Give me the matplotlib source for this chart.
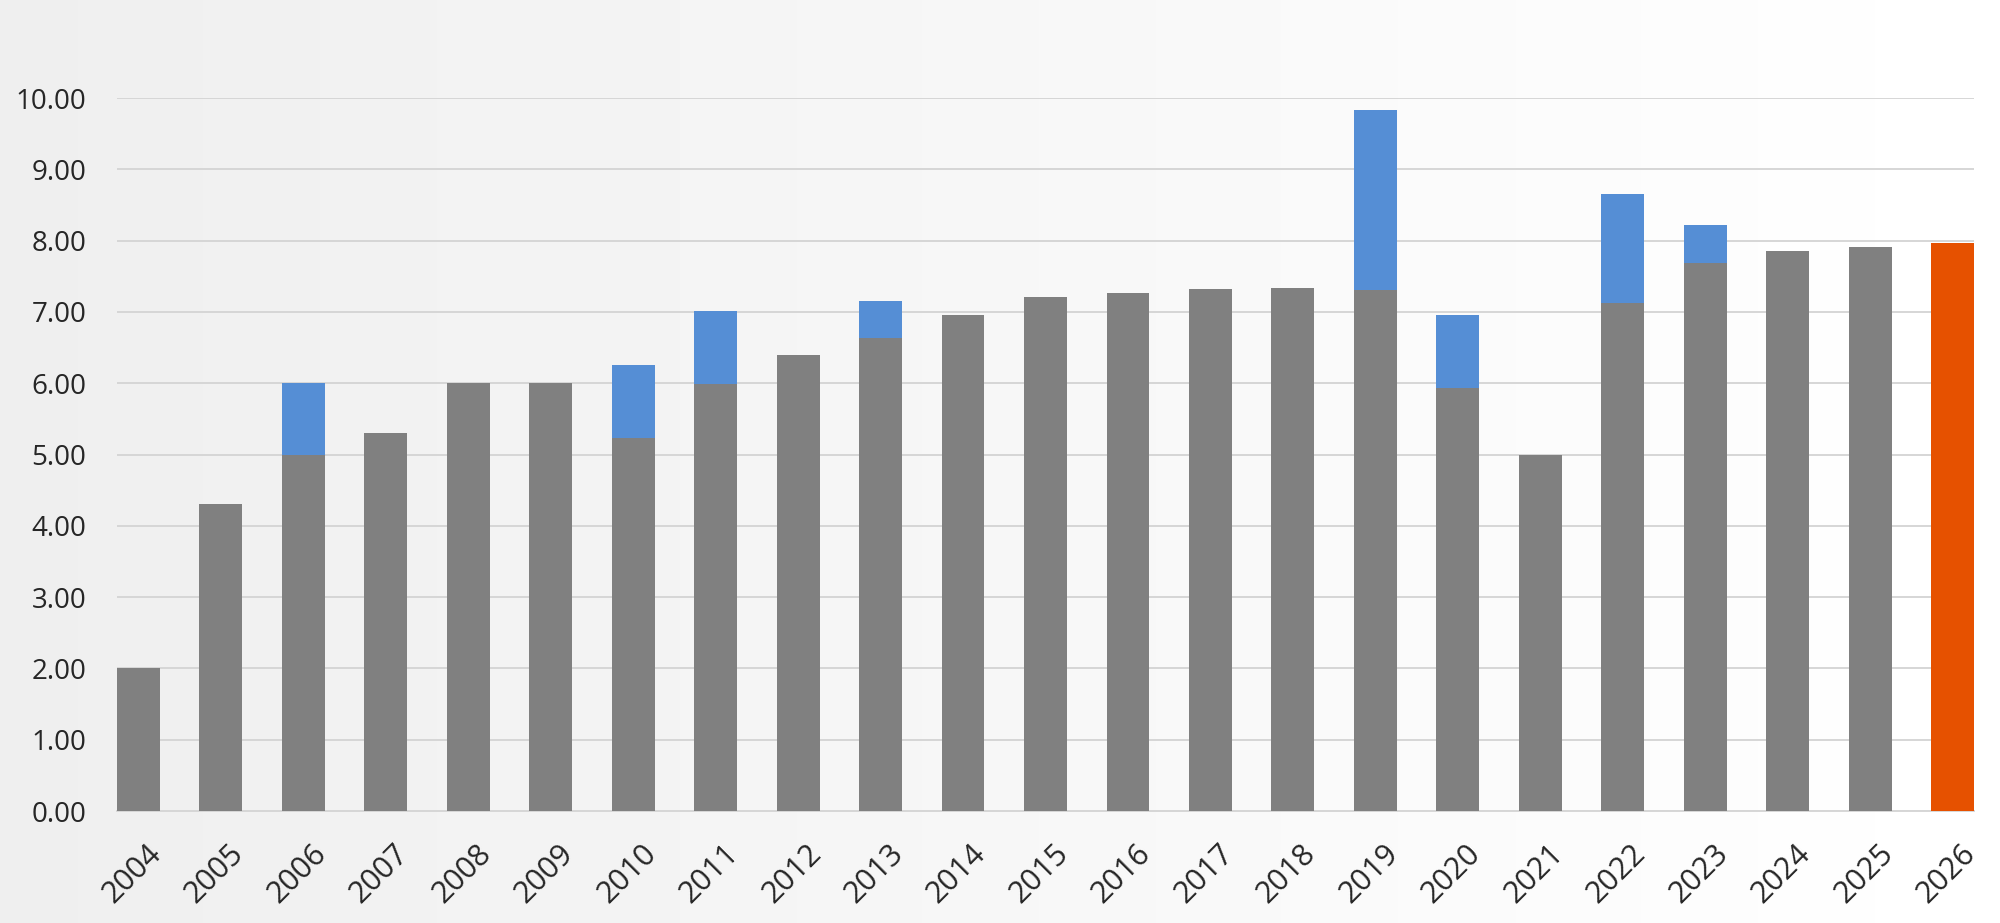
import matplotlib.pyplot as plt
import matplotlib.transforms as mtransforms
import numpy as np

years = [str(y) for y in range(2004, 2027)]
base = [2.00, 4.31, 4.99, 5.30, 6.00, 6.00, 5.23, 5.99, 6.40, 6.64, 6.96, 7.21,
        7.26, 7.32, 7.34, 7.31, 5.93, 5.00, 7.12, 7.68, 7.86, 7.91, 0.0]
extra = [0.0, 0.0, 1.01, 0.0, 0.0, 0.0, 1.03, 1.02, 0.0, 0.52, 0.0, 0.0,
         0.0, 0.0, 0.0, 2.52, 1.02, 0.0, 1.54, 0.54, 0.0, 0.0, 0.0]
forecast = [0.0] * 22 + [7.96]
yticks = [0, 1, 2, 3, 4, 5, 6, 7, 8, 9, 10]

plt.rcParams['font.family'] = ['Open Sans', 'DejaVu Sans']

fig = plt.figure(figsize=(20, 9.23), dpi=100)

# soft grey-to-white background
bg = fig.add_axes([0, 0, 1, 1], zorder=-1)
grad = np.linspace(0.935, 1.0, 256)
grad = np.tile(grad, (16, 1))
bg.imshow(grad, cmap='gray', vmin=0, vmax=1, aspect='auto', extent=[0, 1, 0, 1])
bg.axis('off')

ax = fig.add_axes([0.0585, 0.1213, 0.9285, 0.7725])
ax.patch.set_alpha(0)
x = np.arange(len(years))
w = 0.52
ax.bar(x, base, width=w, color='#808080', zorder=3)
ax.bar(x, extra, width=w, bottom=base, color='#558ed5', zorder=3)
ax.bar(x, forecast, width=w, color='#e65100', zorder=3)

ax.set_xlim(-w / 2, len(years) - 1 + w / 2)
ax.set_ylim(0, 10)
ax.set_yticks(yticks)
ax.set_yticklabels([f'{v:.2f}' for v in yticks])
ax.grid(axis='y', color='#d6d6d6', linewidth=1.4, zorder=0)
for s in ['top', 'right', 'left']:
    ax.spines[s].set_visible(False)
ax.spines['bottom'].set_color('#d6d6d6')
ax.spines['bottom'].set_linewidth(1.4)

ax.set_xticks(x)
ax.set_xticklabels(years, rotation=45, ha='right', va='top', rotation_mode='anchor')
ax.tick_params(axis='both', length=0, labelcolor='#262626')
ax.tick_params(axis='y', labelsize=20, pad=22)
ax.tick_params(axis='x', labelsize=22, pad=20)

# nudge year labels a little to the right
shift = mtransforms.ScaledTranslation(0.08, 0, fig.dpi_scale_trans)
for lbl in ax.get_xticklabels():
    lbl.set_transform(lbl.get_transform() + shift)

fig.savefig('out.png', dpi=100)
